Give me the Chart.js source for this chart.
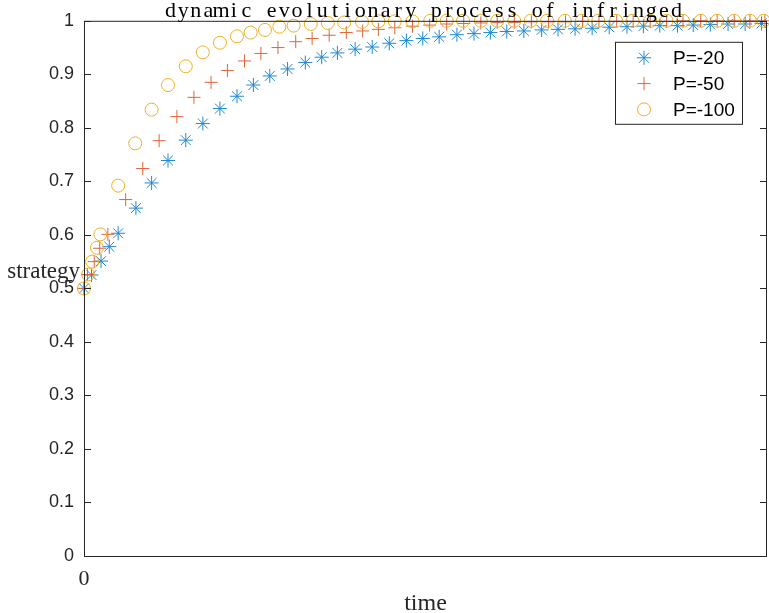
<!DOCTYPE html>
<html>
<head>
<meta charset="utf-8">
<script src="https://cdn.jsdelivr.net/npm/chart.js@4/dist/chart.umd.min.js"></script>
<style>
  html, body { margin: 0; padding: 0; background: #fff; }
  #wrap { width: 769px; height: 613px; }
</style>
</head>
<body>
<div id="wrap"><canvas id="chart"></canvas></div>
<script>
// time values (ode steps are not evenly spaced)
const timeP20 = [0, 0.11, 0.25, 0.37, 0.50, 0.76, 0.99, 1.23, 1.49, 1.74, 1.99, 2.24, 2.48, 2.72, 2.98,
  3.24, 3.48, 3.71, 3.97, 4.22, 4.47, 4.72, 4.96, 5.20, 5.46, 5.71, 5.95, 6.19, 6.44, 6.70, 6.94,
  7.19, 7.44, 7.69, 7.95, 8.19, 8.43, 8.69, 8.92, 9.17, 9.43, 9.68, 9.92];
const strategyP20 = [0.500, 0.525, 0.551, 0.578, 0.603, 0.650, 0.697, 0.739, 0.777, 0.808, 0.836, 0.859,
  0.880, 0.897, 0.910, 0.922, 0.932, 0.940, 0.947, 0.951, 0.958, 0.963, 0.967, 0.970, 0.974, 0.976,
  0.978, 0.980, 0.981, 0.983, 0.984, 0.985, 0.986, 0.988, 0.989, 0.990, 0.991, 0.991, 0.992, 0.993,
  0.994, 0.994, 0.995];

const timeP50 = [0, 0.05, 0.15, 0.23, 0.35, 0.61, 0.86, 1.10, 1.36, 1.61, 1.86, 2.10, 2.35, 2.59, 2.84,
  3.10, 3.34, 3.59, 3.84, 4.08, 4.31, 4.55, 4.81, 5.06, 5.31, 5.56, 5.81, 6.05, 6.30, 6.55, 6.80,
  7.05, 7.30, 7.54, 7.80, 8.04, 8.29, 8.53, 8.77, 9.03, 9.27, 9.52, 9.75, 9.97];
const strategyP50 = [0.500, 0.526, 0.550, 0.575, 0.601, 0.666, 0.724, 0.776, 0.821, 0.857, 0.885, 0.907,
  0.925, 0.939, 0.950, 0.961, 0.967, 0.973, 0.978, 0.981, 0.984, 0.987, 0.990, 0.992, 0.994, 0.995,
  0.996, 0.997, 0.997, 0.998, 0.998, 0.998, 0.999, 0.999, 0.999, 0.999, 0.999, 0.999, 1.000, 1.000,
  1.000, 1.000, 1.000, 1.000];

const timeP100 = [0, 0.06, 0.12, 0.19, 0.24, 0.50, 0.75, 0.99, 1.23, 1.49, 1.74, 1.99, 2.24, 2.44, 2.65,
  2.86, 3.07, 3.32, 3.57, 3.81, 4.07, 4.31, 4.55, 4.81, 5.07, 5.31, 5.55, 5.81, 6.05, 6.30, 6.54,
  6.78, 7.04, 7.29, 7.53, 7.79, 8.03, 8.29, 8.53, 8.77, 9.03, 9.27, 9.52, 9.75, 9.95];
const strategyP100 = [0.500, 0.526, 0.550, 0.576, 0.601, 0.692, 0.771, 0.834, 0.880, 0.915, 0.941, 0.959,
  0.971, 0.978, 0.983, 0.989, 0.991, 0.994, 0.996, 0.997, 0.998, 0.999, 0.999, 0.999, 1.000, 1.000,
  1.000, 1.000, 1.000, 1.000, 1.000, 1.000, 1.000, 1.000, 1.000, 1.000, 1.000, 1.000, 1.000, 1.000,
  1.000, 1.000, 1.000, 1.000, 1.000];

const seriesLabels = ['P=-20', 'P=-50', 'P=-100'];
const yTickStep = 0.1;
const xTickValues = [0];

const titleText = 'dynamic evolutionary process of infringed';
const axisColor = '#262626';

const toPoints = (xs, ys) => xs.map((x, i) => ({ x, y: ys[i] }));

const seriesStyles = [
  { color: '#2088d4', pointStyle: 'star', radius: 7 },
  { color: '#e0653a', pointStyle: 'cross', radius: 6.5 },
  { color: '#EDB120', pointStyle: 'circle', radius: 6.5 },
];

// title, box, inward ticks, y label and legend in matlab style
const matlabAxes = {
  id: 'matlabAxes',
  afterDraw(chart) {
    const { ctx, chartArea: a, scales } = chart;
    ctx.save();

    ctx.strokeStyle = axisColor;
    ctx.lineWidth = 1;
    ctx.strokeRect(a.left + 0.5, a.top + 0.5, a.right - a.left - 1, a.bottom - a.top);
    ctx.beginPath();
    scales.y.ticks.forEach(t => {
      const y = Math.round(scales.y.getPixelForValue(t.value)) + 0.5;
      ctx.moveTo(a.left, y);
      ctx.lineTo(a.left + 7, y);
      ctx.moveTo(a.right, y);
      ctx.lineTo(a.right - 7, y);
    });
    ctx.stroke();

    // monospaced serif title
    ctx.fillStyle = '#000';
    ctx.font = '22px "Liberation Serif"';
    ctx.textAlign = 'center';
    ctx.textBaseline = 'alphabetic';
    const cell = 12.65;
    const start = (a.left + a.right) / 2 - (titleText.length * cell) / 2 - 2;
    [...titleText].forEach((ch, i) => ctx.fillText(ch, start + i * cell + cell / 2, 17));

    ctx.font = '23px "Liberation Serif"';
    ctx.textAlign = 'right';
    ctx.fillStyle = axisColor;
    ctx.fillText('strategy', a.left - 4, 278);

    // legend
    const lx = a.right - 152, ly = a.top + 21, lw = 127, lh = 82;
    ctx.fillStyle = '#fff';
    ctx.fillRect(lx, ly, lw, lh);
    ctx.strokeStyle = axisColor;
    ctx.strokeRect(lx + 0.5, ly + 0.5, lw, lh);
    ctx.font = '19px "Liberation Sans"';
    ctx.textAlign = 'left';
    ctx.textBaseline = 'middle';
    seriesLabels.forEach((label, i) => {
      const s = seriesStyles[i];
      const y = ly + 16 + i * 25.8;
      ctx.strokeStyle = s.color;
      ctx.fillStyle = 'rgba(0,0,0,0)';
      ctx.lineWidth = 1;
      Chart.helpers.drawPoint(ctx, { pointStyle: s.pointStyle, radius: s.radius, rotation: 0, borderWidth: 1 }, lx + 29, y);
      ctx.fillStyle = '#000';
      ctx.fillText(label, lx + 58, y + 1);
    });
    ctx.restore();
  }
};

const datasets = [
  [timeP20, strategyP20],
  [timeP50, strategyP50],
  [timeP100, strategyP100],
].map(([xs, ys], i) => ({
  label: seriesLabels[i],
  data: toPoints(xs, ys),
  showLine: false,
  pointStyle: seriesStyles[i].pointStyle,
  pointRadius: seriesStyles[i].radius,
  pointBorderWidth: 1,
  pointBorderColor: seriesStyles[i].color,
  pointBackgroundColor: 'rgba(0,0,0,0)',
  borderColor: seriesStyles[i].color,
  clip: false,
  order: 3 - i,
}));

new Chart(document.getElementById('chart'), {
  type: 'scatter',
  data: { datasets },
  options: {
    responsive: true,
    maintainAspectRatio: false,
    animation: false,
    layout: { autoPadding: false, padding: { left: 0, right: 2, top: 20, bottom: 0 } },
    plugins: {
      legend: { display: false },
      tooltip: { enabled: false },
      title: { display: false },
    },
    scales: {
      x: {
        type: 'linear',
        min: 0,
        max: 10,
        afterBuildTicks: scale => { scale.ticks = xTickValues.map(value => ({ value })); },
        afterFit: scale => { scale.height = 57; },
        grid: { display: false, drawTicks: false },
        border: { display: false },
        ticks: {
          color: axisColor,
          padding: 10,
          maxRotation: 0,
          font: { family: 'Liberation Serif', size: 22 },
        },
        title: {
          display: true,
          text: 'time',
          color: axisColor,
          padding: { top: 0, bottom: -3 },
          font: { family: 'Liberation Serif', size: 24, lineHeight: 1 },
        },
      },
      y: {
        min: 0,
        max: 1,
        afterFit: scale => { scale.width = 84; },
        grid: { display: false, drawTicks: false },
        border: { display: false },
        ticks: {
          stepSize: yTickStep,
          color: axisColor,
          padding: 10,
          font: { family: 'Liberation Sans', size: 18 },
          callback: v => String(+v.toFixed(1)),
        },
      },
    },
  },
  plugins: [matlabAxes],
});
</script>
</body>
</html>
